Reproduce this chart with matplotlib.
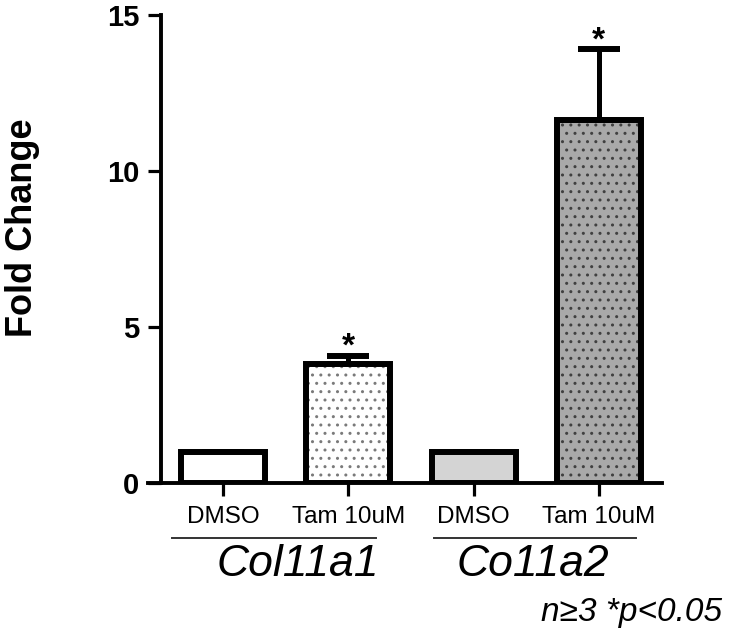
import matplotlib
matplotlib.use('Agg')
import matplotlib.pyplot as plt
import numpy as np

plt.rcParams['font.family'] = ['Liberation Sans', 'DejaVu Sans']
plt.rcParams['hatch.linewidth'] = 1.0

# data
conditions = ['DMSO', 'Tam 10uM', 'DMSO', 'Tam 10uM']
genes = ['Col11a1', 'Co11a2']
fold_change = [1.0, 3.8, 1.0, 11.65]
sem = [0.0, 0.28, 0.0, 2.25]
significant = [False, True, False, True]

fills = ['white', 'white', '#d4d4d4', '#a9a9a9']
dot_colors = [None, '#7a7a7a', None, '#404040']

fig = plt.figure(figsize=(7.33, 6.4), dpi=100)
ax = fig.add_axes([148 / 733, (640 - 483) / 640, (662 - 148) / 733, (483 - 15) / 640])

x = np.arange(len(fold_change))
width = 0.67

# fill + dots first, then the thick black outline on top
for i in range(len(x)):
    if dot_colors[i]:
        ax.bar(x[i], fold_change[i], width, color=fills[i], edgecolor=dot_colors[i],
               hatch='..', linewidth=0, zorder=2)
    else:
        ax.bar(x[i], fold_change[i], width, color=fills[i], linewidth=0, zorder=2)
ax.bar(x, fold_change, width, fill=False, edgecolor='black', linewidth=4.3, zorder=3)

ax.errorbar(x, fold_change, yerr=[np.zeros(len(sem)), sem], fmt='none', ecolor='black',
            elinewidth=3.6, capsize=15, capthick=4.3, zorder=1)

for i in range(len(x)):
    if significant[i]:
        ax.text(x[i], fold_change[i] + sem[i], '*', ha='center', va='baseline',
                fontsize=24, fontweight='bold')

for s in ['top', 'right']:
    ax.spines[s].set_visible(False)
ax.spines['left'].set_position(('data', -0.495))
ax.spines['left'].set_linewidth(2.8)
ax.spines['bottom'].set_linewidth(2.8)
ax.spines['left'].set_zorder(4)
ax.spines['bottom'].set_zorder(4)

ax.set_xlim(-0.6, 3.504)
ax.set_ylim(0, 15)
ax.set_yticks([0, 5, 10, 15])
ax.set_xticks(x)
ax.set_xticklabels([])
ax.tick_params(axis='y', length=9.5, width=2.3, pad=6, labelsize=21)
ax.tick_params(axis='x', length=9.5, width=2.3)
for lab in ax.get_yticklabels():
    lab.set_fontweight('bold')

ax.set_ylabel('Fold Change', fontsize=26, fontweight='bold')
ax.yaxis.set_label_coords(-0.21, 0.545)

for i in range(len(x)):
    ax.text(x[i], -1.09, conditions[i], ha='center', va='center', fontsize=17.5,
            clip_on=False)

ax.plot([-0.41, 1.22], [-1.76, -1.76], color='#333333', lw=1.4, clip_on=False)
ax.plot([1.68, 3.30], [-1.76, -1.76], color='#333333', lw=1.4, clip_on=False)
ax.text(0.6, -2.62, genes[0], ha='center', va='center', fontsize=32, style='italic',
        clip_on=False)
ax.text(2.47, -2.62, genes[1], ha='center', va='center', fontsize=32, style='italic',
        clip_on=False)

fig.text(722 / 733, 1 - 612 / 640, 'n≥3 *p<0.05', ha='right', va='center',
         fontsize=24, style='italic')

fig.savefig('out.png', dpi=100)
